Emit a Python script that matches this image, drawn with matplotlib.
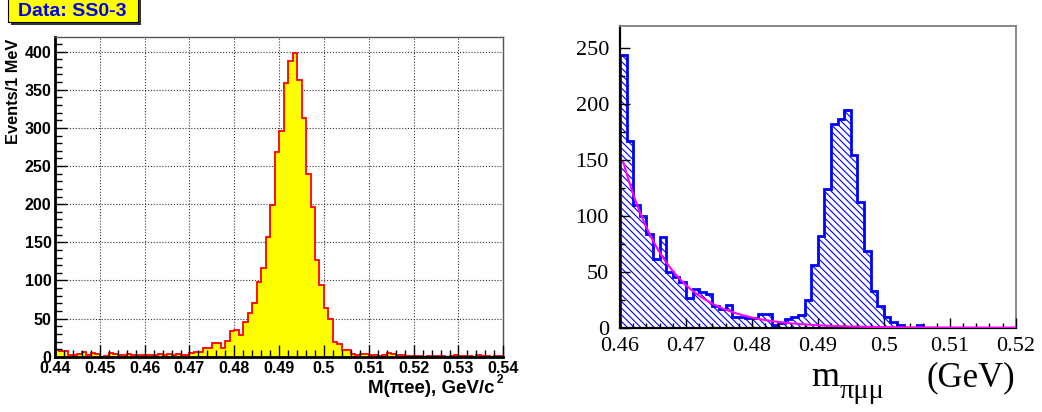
import numpy as np
import matplotlib
matplotlib.use("Agg")
import matplotlib.pyplot as plt
from matplotlib.ticker import MultipleLocator
from matplotlib.patches import Rectangle

W, H, DPI = 1042, 412, 100

# ---- left panel: M(pi ee), 1 MeV bins from 0.44 to 0.54 GeV ----
ee_range = (0.44, 0.54)
ee_counts = [
    9, 8, 8, 2, 3, 4, 6, 3, 5, 4,
    0, 1, 5, 4, 2, 2, 4, 2, 2, 2,
    3, 3, 2, 4, 2, 4, 2, 4, 3, 3,
    5, 6, 6, 12, 11, 18, 18, 12, 21, 34,
    35, 29, 46, 57, 70, 98, 116, 157, 199, 269,
    296, 359, 387, 398, 363, 313, 239, 196, 127, 94,
    64, 50, 19, 17, 9, 9, 4, 3, 4, 4,
    2, 2, 1, 2, 5, 4, 3, 2, 1, 1,
    1, 1, 0, 1, 1, 1, 1, 0, 1, 3,
    1, 1, 1, 0, 2, 1, 1, 0, 1, 1,
]
ee_xticks = [0.44, 0.45, 0.46, 0.47, 0.48, 0.49, 0.50, 0.51, 0.52, 0.53, 0.54]
ee_xlabels = ["0.44", "0.45", "0.46", "0.47", "0.48", "0.49", "0.5",
              "0.51", "0.52", "0.53", "0.54"]
ee_yticks = [0, 50, 100, 150, 200, 250, 300, 350, 400]

# ---- right panel: m(pi mu mu), 1 MeV bins from 0.46 to 0.52 GeV ----
mm_range = (0.46, 0.52)
mm_counts = [
    244, 167, 110, 100, 84, 61, 81, 50, 45, 41,
    27, 35, 32, 30, 19, 17, 20, 10, 10, 9,
    9, 12, 12, 2, 4, 8, 10, 11, 25, 56,
    82, 124, 182, 187, 195, 154, 112, 69, 33, 19,
    10, 5, 2, 0, 0, 2, 0, 0, 0, 0,
    0, 0, 0, 0, 0, 0, 0, 0, 0, 0,
]
mm_xticks = [0.46, 0.47, 0.48, 0.49, 0.50, 0.51, 0.52]
mm_xlabels = ["0.46", "0.47", "0.48", "0.49", "0.5", "0.51", "0.52"]
mm_yticks = [0, 50, 100, 150, 200, 250]

# exponential background fit on the mu mu sample
fit_start = 0.4605
fit_amplitude = 148.0
fit_decay = 0.0070

plt.rcParams["hatch.linewidth"] = 0.8

fig = plt.figure(figsize=(W / DPI, H / DPI), dpi=DPI)


def axes_px(x0, y0, x1, y1):
    return fig.add_axes([x0 / W, 1 - y1 / H, (x1 - x0) / W, (y1 - y0) / H])


sans = "Liberation Sans"
serif = "Liberation Serif"

# ================= left panel =================
ax1 = axes_px(55, 36.7, 503.3, 356.8)
ee_edges = np.linspace(ee_range[0], ee_range[1], len(ee_counts) + 1)
ax1.stairs(ee_counts, ee_edges, fill=True, facecolor="#ffff00",
           edgecolor="none", lw=0, zorder=1)
ax1.stairs(ee_counts, ee_edges, color="#ff0000", lw=1.3, zorder=2)

for t in ee_xticks[1:-1]:
    ax1.axvline(t, color="#333333", lw=0.8, ls=(0, (1, 1.6)), zorder=0.8)
for t in ee_yticks[1:]:
    ax1.axhline(t, color="#333333", lw=0.8, ls=(0, (1, 1.6)), zorder=0.8)

ax1.set_xlim(*ee_range)
ax1.set_ylim(0, 419.5)
ax1.set_xticks(ee_xticks, ee_xlabels, fontsize=11.5, fontweight="bold", family=sans)
ax1.set_yticks(ee_yticks, [str(v) for v in ee_yticks], fontsize=11.5,
               fontweight="bold", family=sans)
ax1.xaxis.set_minor_locator(MultipleLocator(0.002))
ax1.yaxis.set_minor_locator(MultipleLocator(10))
ax1.tick_params(which="both", direction="in", top=False, right=False,
                width=1.0, color="black")
ax1.tick_params(which="major", length=8.4)
ax1.tick_params(which="minor", length=4.8)
ax1.tick_params(axis="x", pad=3)
ax1.tick_params(axis="y", pad=2.5)
ax1.set_axisbelow(False)
for s in ("left", "bottom"):
    ax1.spines[s].set_linewidth(2.0)
    ax1.spines[s].set_color("black")
for s in ("top", "right"):
    ax1.spines[s].set_linewidth(1.0)
    ax1.spines[s].set_color("#555555")

fig.text(14 / W, 1 - 39 / H, "Events/1 MeV", rotation=90, ha="center", va="top",
         fontsize=11.8, fontweight="bold", family=sans)
fig.text(495 / W, 1 - 393 / H, "M(\u03c0ee), GeV/c", ha="right", va="baseline",
         fontsize=13.5, fontweight="bold", family=sans)
fig.text(503 / W, 1 - 383 / H, "2", ha="right", va="baseline",
         fontsize=8.5, fontweight="bold", family=sans)

# sample tag with drop shadow
fig.patches.append(Rectangle((11 / W, 1 - 25 / H), 130 / W, 27 / H,
                             transform=fig.transFigure, facecolor="#333333",
                             edgecolor="none", zorder=5))
fig.patches.append(Rectangle((8 / W, 1 - 21.7 / H), 130 / W, 24 / H,
                             transform=fig.transFigure, facecolor="#ffff00",
                             edgecolor="black", lw=0.8, zorder=6))
fig.text(72 / W, 1 - 11 / H, "Data: SS0-3", ha="center", va="center",
         fontsize=14, fontweight="bold", family=sans, color="#0000ee", zorder=7)

# ================= right panel =================
ax2 = axes_px(620, 25.7, 1015.7, 327.7)
mm_edges = np.linspace(mm_range[0], mm_range[1], len(mm_counts) + 1)
ax2.stairs(mm_counts, mm_edges, fill=True, facecolor="none", edgecolor="#0000ff",
           hatch="\\" * 5, lw=0, zorder=1)
ax2.stairs(mm_counts, mm_edges, color="#0000ff", lw=2.0, zorder=2)

xf = np.linspace(fit_start, mm_range[1], 400)
ax2.plot(xf, fit_amplitude * np.exp(-(xf - fit_start) / fit_decay),
         color="#ff00ff", lw=1.5, zorder=3)

ax2.set_xlim(*mm_range)
ax2.set_ylim(0, 270)
ax2.set_xticks(mm_xticks, mm_xlabels, fontsize=16, family=serif)
ax2.set_yticks(mm_yticks, [str(v) for v in mm_yticks], fontsize=16, family=serif)
ax2.xaxis.set_minor_locator(MultipleLocator(0.002))
ax2.yaxis.set_minor_locator(MultipleLocator(25))
ax2.tick_params(which="both", direction="in", top=False, right=False,
                width=1.0, color="black")
ax2.tick_params(which="major", length=7.5)
ax2.tick_params(which="minor", length=3.8)
ax2.tick_params(axis="x", pad=7)
ax2.tick_params(axis="y", pad=8)
ax2.set_axisbelow(False)
for s in ("left", "bottom"):
    ax2.spines[s].set_linewidth(1.6)
    ax2.spines[s].set_color("black")
for s in ("top", "right"):
    ax2.spines[s].set_linewidth(1.3)
    ax2.spines[s].set_color("#808080")

fig.text(811 / W, 1 - 386 / H, "m", ha="left", va="baseline",
         fontsize=26, family=serif)
fig.text(840 / W, 1 - 398 / H, "\u03c0\u03bc\u03bc", ha="left", va="baseline",
         fontsize=20.5, family=serif)
fig.text(1015 / W, 1 - 386 / H, "(GeV)", ha="right", va="baseline",
         fontsize=25, family=serif)

fig.savefig("out.png", dpi=DPI)
